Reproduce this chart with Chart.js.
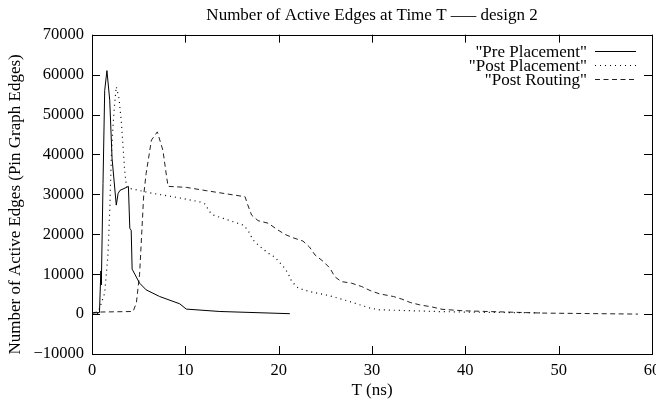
<!DOCTYPE html>
<html>
<head>
<meta charset="utf-8">
<script src="https://cdn.jsdelivr.net/npm/chart.js@4"></script>
<style>
  html, body { margin: 0; padding: 0; overflow: hidden; background: #fff; }
  #wrap { width: 660px; height: 402px; }
</style>
</head>
<body>
<div id="wrap"><canvas id="edgeChart"></canvas></div>
<script>
// Series data (T in ns, active edges)
const seriesNames = ['"Pre Placement"', '"Post Placement"', '"Post Routing"'];

const preX = [0, 0.8, 0.95, 1.0, 1.18, 1.36, 1.6, 1.9, 2.15, 2.6, 2.8, 3.0, 3.7, 3.9, 4.05, 4.2, 4.3, 5.1, 5.8, 7.25, 9.4, 10.1, 13.7, 21.2];
const preY = [250, 400, 10800, 7300, 32700, 56000, 61000, 53600, 39000, 27300, 30250, 31000, 31750, 32000, 21500, 21000, 11250, 7750, 6075, 4400, 2575, 1250, 650, 100];

const postPlaceX = [0, 0.6, 1.0, 1.36, 1.54, 1.7, 1.9, 2.08, 2.25, 2.4, 2.6, 2.9, 3.15, 3.5, 3.7, 4.0, 6.5, 8.7, 11.5, 12.1, 12.6, 13.0, 14.8, 16.2, 16.7, 17.25, 18.0, 18.9, 19.6, 20.5, 21.0, 21.4, 22.1, 23.3, 25.5, 27.6, 29.8, 30.8, 36.9, 40, 48.3];
const postPlaceY = [0, 100, 2750, 5250, 10250, 14500, 26000, 40000, 47000, 52000, 57000, 54000, 48000, 36000, 31800, 31500, 30250, 29400, 28150, 27575, 25650, 24800, 23400, 22300, 21050, 18600, 16900, 15250, 14250, 11900, 10250, 8150, 6500, 5650, 4575, 3150, 1500, 1075, 650, 500, 300];

const routeX = [0, 0.5, 4.4, 4.75, 5.1, 5.54, 5.8, 6.37, 7.0, 7.6, 7.97, 8.15, 10.1, 12.3, 15.3, 16.4, 16.7, 17.1, 17.8, 18.9, 19.8, 20.65, 21.5, 22.6, 23.3, 23.9, 24.8, 25.5, 26.0, 26.7, 27.8, 28.9, 29.8, 30.8, 32.3, 33.2, 34.1, 35.1, 36.5, 37.5, 39.8, 48.3, 58.5];
const routeY = [250, 500, 650, 2750, 10000, 29800, 35250, 43600, 45650, 41000, 34800, 32000, 31750, 30900, 29800, 29400, 27300, 24800, 23400, 22750, 21250, 20000, 19150, 18300, 16800, 14800, 13150, 11500, 9400, 8150, 7750, 6900, 5900, 5075, 4400, 3750, 2900, 2325, 1750, 1200, 825, 250, 0];

const xTicks = [0, 10, 20, 30, 40, 50, 60];
const yTicks = [-10000, 0, 10000, 20000, 30000, 40000, 50000, 60000, 70000];

const yTitle = 'Number of Active Edges (Pin Graph Edges)';
const serif = 'Liberation Serif';

function toPoints(xs, ys) {
  return xs.map((x, i) => ({ x: x, y: ys[i] }));
}

// gnuplot style frame with inward ticks on all four sides
const framePlugin = {
  id: 'frame',
  afterDatasetsDraw(chart) {
    const { ctx, chartArea: a, scales } = chart;
    const len = 8;
    ctx.save();
    ctx.strokeStyle = '#000';
    ctx.lineWidth = 1;
    ctx.beginPath();
    xTicks.forEach(v => {
      const px = Math.round(scales.x.getPixelForValue(v)) + 0.5;
      ctx.moveTo(px, a.bottom); ctx.lineTo(px, a.bottom - len);
      ctx.moveTo(px, a.top); ctx.lineTo(px, a.top + len);
    });
    yTicks.forEach(v => {
      const py = Math.round(scales.y.getPixelForValue(v)) + 0.5;
      ctx.moveTo(a.left, py); ctx.lineTo(a.left + len, py);
      ctx.moveTo(a.right, py); ctx.lineTo(a.right - len, py);
    });
    ctx.stroke();
    ctx.strokeRect(Math.round(a.left) + 0.5, Math.round(a.top) + 0.5,
      Math.round(a.right - a.left), Math.round(a.bottom - a.top));

    // y axis title, sitting a little below the middle like the original
    ctx.font = '17px "' + serif + '"';
    ctx.fillStyle = '#000';
    ctx.textAlign = 'center';
    ctx.textBaseline = 'middle';
    ctx.translate(16, (a.top + a.bottom) / 2 + 10);
    ctx.rotate(-Math.PI / 2);
    ctx.fillText(yTitle, 0, 0);
    ctx.restore();
  }
};

// legend in the top right corner, text first then line sample
const keyPlugin = {
  id: 'key',
  afterDatasetsDraw(chart) {
    const { ctx, chartArea: a } = chart;
    ctx.save();
    ctx.font = '17px "' + serif + '"';
    ctx.textAlign = 'right';
    ctx.textBaseline = 'middle';
    ctx.fillStyle = '#000';
    chart.data.datasets.forEach((ds, i) => {
      const y = Math.round(a.top + 16 + i * 14) + 0.5;
      ctx.fillText(ds.label, a.right - 65, y + 1);
      ctx.strokeStyle = ds.borderColor;
      ctx.lineWidth = 1;
      ctx.setLineDash(ds.borderDash || []);
      ctx.beginPath();
      ctx.moveTo(a.right - 57, y);
      ctx.lineTo(a.right - 16, y);
      ctx.stroke();
    });
    ctx.restore();
  }
};

const ctx = document.getElementById('edgeChart').getContext('2d');
new Chart(ctx, {
  type: 'line',
  data: {
    datasets: [
      { label: seriesNames[0], data: toPoints(preX, preY), borderColor: '#000', borderWidth: 1, borderDash: [] },
      { label: seriesNames[1], data: toPoints(postPlaceX, postPlaceY), borderColor: '#000', borderWidth: 1.2, borderDash: [1, 4] },
      { label: seriesNames[2], data: toPoints(routeX, routeY), borderColor: '#222', borderWidth: 1, borderDash: [5, 3.5] }
    ]
  },
  options: {
    responsive: true,
    maintainAspectRatio: false,
    animation: false,
    layout: { padding: { left: 0, right: 8, top: 0, bottom: 0 } },
    elements: {
      point: { radius: 0 },
      line: { tension: 0, fill: false }
    },
    plugins: {
      legend: { display: false },
      tooltip: { enabled: false },
      title: {
        display: true,
        text: 'Number of Active Edges at Time T \u2013\u2013\u2013 design 2',
        color: '#000',
        fullSize: false,
        font: { family: serif, size: 17, weight: 'normal' },
        padding: { top: 5, bottom: 9.3 }
      }
    },
    scales: {
      x: {
        type: 'linear',
        min: 0,
        max: 60,
        afterBuildTicks: s => { s.ticks = xTicks.map(v => ({ value: v })); },
        afterFit: s => { s.height = 48; s.paddingRight = 0; s.paddingLeft = 0; },
        grid: { display: false, drawTicks: false },
        border: { display: false },
        ticks: { color: '#000', padding: 7, maxRotation: 0, font: { family: serif, size: 16.5 } },
        title: {
          display: true,
          text: 'T (ns)',
          color: '#000',
          font: { family: serif, size: 17 },
          padding: { top: 0, bottom: 1 }
        }
      },
      y: {
        type: 'linear',
        min: -10000,
        max: 70000,
        afterBuildTicks: s => { s.ticks = yTicks.map(v => ({ value: v })); },
        afterFit: s => { s.width = 92; },
        grid: { display: false, drawTicks: false },
        border: { display: false },
        ticks: {
          color: '#000',
          padding: 8,
          font: { family: serif, size: 16.5 },
          callback: v => (v < 0 ? '\u2212' + Math.abs(v) : String(v))
        }
      }
    }
  },
  plugins: [framePlugin, keyPlugin]
});
</script>
</body>
</html>
